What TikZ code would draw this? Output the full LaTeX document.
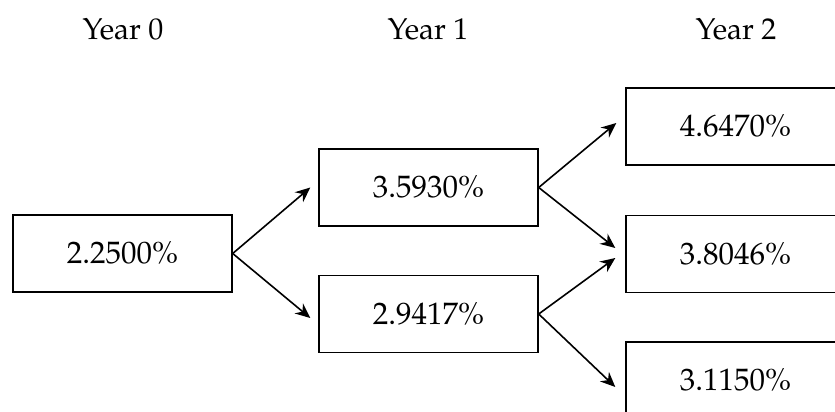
\documentclass[tikz,border=0pt]{standalone}
\usepackage[T1]{fontenc}
\usepackage{mathpazo}
\usetikzlibrary{arrows.meta}
\tikzset{
  valbox/.style={draw, line width=1.4pt, minimum width=219pt, minimum height=77pt, inner sep=0pt, font=\fontsize{31}{37}\selectfont},
  yearlbl/.style={anchor=base, inner sep=0pt, font=\fontsize{30}{36}\selectfont},
  arr/.style={line width=1.6pt, -{Stealth[length=15pt,width=13pt,inset=5pt]}}
}
\begin{document}
\begin{tikzpicture}[x=1pt,y=-1pt]
\useasboundingbox (0,0) rectangle (835,412);
\node[yearlbl] (h0) at (123,40) {Year 0};
\node[yearlbl] (h1) at (428,40) {Year 1};
\node[yearlbl] (h2) at (736,40) {Year 2};
\node[valbox] (y0) at (122.5,253.5) {2.2500\%};
\node[valbox] (y1a) at (428.5,187.5) {3.5930\%};
\node[valbox] (y1b) at (428.5,314) {2.9417\%};
\node[valbox] (y2a) at (735.5,126.5) {4.6470\%};
\node[valbox] (y2b) at (735.5,254) {3.8046\%};
\node[valbox] (y2c) at (735.5,380.5) {3.1150\%};
\draw[arr] (y0.east) -- ([xshift=-8pt]y1a.west);
\draw[arr] (y0.east) -- ([xshift=-8pt,yshift=-4pt]y1b.west);
\draw[arr] (y1a.east) -- ([xshift=-9pt,yshift=3.5pt]y2a.west);
\draw[arr] (y1a.east) -- ([xshift=-10pt,yshift=6pt]y2b.west);
\draw[arr] (y1b.east) -- ([xshift=-10pt,yshift=-4pt]y2b.west);
\draw[arr] (y1b.east) -- ([xshift=-10pt,yshift=-6.5pt]y2c.west);
\end{tikzpicture}
\end{document}
